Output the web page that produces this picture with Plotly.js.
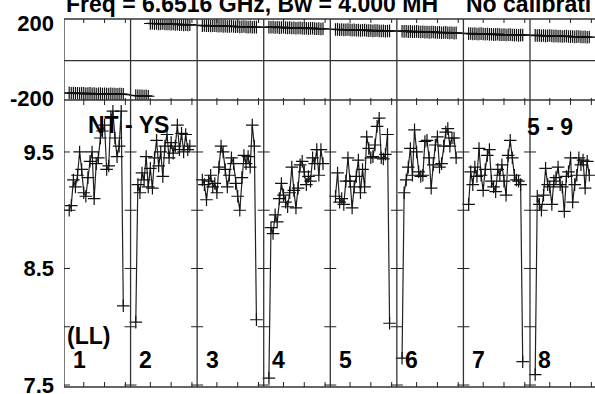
<!DOCTYPE html>
<html><head><meta charset="utf-8">
<script src="https://cdn.plot.ly/plotly-3.0.1.min.js"></script>
<style>html,body{margin:0;padding:0;background:#fff;overflow:hidden}</style>
</head><body>
<div id="chart" style="width:595px;height:394px"></div>
<script>
// ---- data ----
const panelLabels = ['1','2','3','4','5','6','7','8'];
const channels = [3,4,5,6,7,8,9,10,11,12,13,14,15,16,17,18,19,20,21,22,23,24,25,26,27,28,29];
const channelTicks = [10,20,30];
const ampTicks = [9.5,9.0,8.5,8.0,7.5];
const ampLabelVals = [9.5,8.5,7.5];
const ampLabelText = ['9.5','8.5','7.5'];
const phaseLabelVals = [200,-200];
const phaseLabelText = ['200','-200'];

const amp1 = [9.00,9.04,9.26,9.20,9.30,9.50,9.35,9.15,9.12,9.28,9.42,9.50,9.10,9.40,9.45,9.62,9.68,9.73,9.35,9.38,9.80,9.85,9.62,9.46,9.55,9.85,8.18];
const amp2 = [8.04,9.22,9.15,9.32,9.26,9.46,9.20,9.36,9.19,9.45,9.60,9.38,9.50,9.29,9.55,9.65,9.45,9.58,9.49,9.55,9.73,9.52,9.66,9.50,9.65,9.52,9.55];
const amp3 = [9.26,9.22,9.09,9.25,9.30,9.20,9.23,9.15,9.37,9.55,9.50,9.35,9.20,9.30,9.45,9.40,9.23,9.12,9.00,9.28,9.47,9.40,9.46,9.37,9.73,9.55,8.06];
const amp4 = [7.56,8.85,8.80,8.96,8.90,9.10,9.23,9.13,9.07,9.03,9.15,9.37,9.17,9.02,9.19,9.39,9.42,9.33,9.22,9.29,9.25,9.45,9.40,9.52,9.30,9.52,9.40];
const amp5 = [9.12,9.32,9.07,9.10,9.05,9.25,9.45,9.25,9.02,9.20,9.29,9.43,9.15,9.35,9.20,9.63,9.53,9.45,9.46,9.56,9.72,9.79,9.45,9.44,9.48,9.65,8.03];
const amp6 = [7.73,9.15,9.26,9.37,9.53,9.30,9.69,9.50,9.33,9.29,9.30,9.59,9.60,9.45,9.19,9.39,9.56,9.63,9.37,9.40,9.55,9.67,9.70,9.55,9.62,9.62,9.45];
const amp7 = [9.05,9.33,9.22,9.37,9.29,9.53,9.30,9.17,9.35,9.47,9.52,9.25,9.20,9.16,9.35,9.30,9.39,9.25,9.13,9.47,9.60,9.45,9.30,9.26,9.25,9.22,7.70];
const amp8 = [7.59,9.12,9.05,9.00,9.13,9.36,9.22,9.20,9.05,9.25,9.28,9.37,9.22,9.20,8.99,9.29,9.33,9.45,9.07,9.22,9.30,9.45,9.39,9.43,9.19,9.42,9.30];

const phase1 = [-172,-174,-173,-175,-174,-176,-175,-174,-177,-176,-175,-177,-176,-178,-177,-176,-178,-177,-179,-178,-177,-179,-178,-180,-179,-178,-180];
const phase2 = [-186,-187,-188,-187,-189,-188,-190,197,198,196,197,195,196,197,195,194,195,193,194,192,193,191,192,190,191,190,191];
const phase3 = [186,187,185,186,184,185,186,184,183,184,182,183,181,182,183,181,180,181,179,180,181,179,178,179,177,178,178];
const phase4 = [178,177,178,176,177,175,176,177,175,174,175,173,174,172,173,174,172,171,172,170,171,172,170,169,170,168,169];
const phase5 = [165,166,164,165,163,164,165,163,162,163,161,162,160,161,162,160,159,160,158,159,160,158,157,158,156,157,158];
const phase6 = [156,155,156,154,155,153,154,155,153,152,153,151,152,150,151,152,150,149,150,148,149,150,148,147,148,146,147];
const phase7 = [143,144,142,143,141,142,143,141,140,141,139,140,138,139,140,138,137,138,136,137,138,136,135,136,134,135,136];
const phase8 = [134,133,134,132,133,131,132,133,131,130,131,129,130,128,129,130,128,127,128,126,127,128,126,125,126,124,125];

const titleText = 'Freq = 6.6516 GHz, Bw = 4.000 MH';
const titleText2 = 'No calibrati';
const sourceText = 'NT - YS';
const baselineText = '5 - 9';
const polText = '(LL)';

// ---- geometry ----
const W = 595, H = 394;
const ML = 64, MR = 0, MT = 19, MB = 7;
const PW = W - ML - MR, PH = H - MT - MB;
const CH_PER_PANEL = 32;
const PX_PER_CH = 66.57 / CH_PER_PANEL;
const X0 = 0.5;
const X1 = X0 + PW / PX_PER_CH;
const splitPx = 100; // boundary between phase and amplitude panels
const splitFrac = (H - MB - splitPx) / PH;

const ampSets = [amp1,amp2,amp3,amp4,amp5,amp6,amp7,amp8];
const phaseSets = [phase1,phase2,phase3,phase4,phase5,phase6,phase7,phase8];

const xOf = (p, ch) => p * CH_PER_PANEL + ch;
const px2paperX = px => (px - ML) / PW;
const py2paperY = py => (H - MB - py) / PH;

// amplitude: one line per panel (gaps between panels)
const ax = [], ay = [];
ampSets.forEach((arr, p) => {
  arr.forEach((v, k) => { ax.push(xOf(p, channels[k])); ay.push(v); });
  ax.push(null); ay.push(null);
});
// phase: continuous, broken at wraps
const phx = [], phy = [];
let prev = null;
phaseSets.forEach((arr, p) => {
  arr.forEach((v, k) => {
    if (prev !== null && Math.abs(v - prev) > 180) { phx.push(null); phy.push(null); }
    phx.push(xOf(p, channels[k])); phy.push(v); prev = v;
  });
});

const mk = {symbol: 'cross-thin', size: 9, line: {width: 1.2, color: '#111'}, color: '#111'};
const traces = [
  {x: ax, y: ay, xaxis: 'x', yaxis: 'y', mode: 'lines+markers', line: {color: '#222', width: 1.2}, marker: mk, connectgaps: false, hoverinfo: 'skip'},
  {x: phx, y: phy, xaxis: 'x', yaxis: 'y2', mode: 'lines+markers', line: {color: '#111', width: 1.2}, marker: mk, connectgaps: false, hoverinfo: 'skip'}
];

// ---- frame shapes ----
const shapes = [];
const frameLine = {color: '#333', width: 1.3};
for (let p = 0; p <= 8; p++) {
  shapes.push({type: 'line', xref: 'x', yref: 'paper', x0: X0 + p * CH_PER_PANEL, x1: X0 + p * CH_PER_PANEL, y0: 0, y1: 1, line: frameLine});
}
[0, splitFrac, 1].forEach(yv => shapes.push({type: 'line', xref: 'paper', yref: 'paper', x0: 0, x1: 1, y0: yv, y1: yv, line: frameLine}));
shapes.push({type: 'line', xref: 'paper', yref: 'y2', x0: 0, x1: 1, y0: 0, y1: 0, line: frameLine});

// channel ticks
for (let p = 0; p < 8; p++) {
  channelTicks.forEach(t => {
    const xv = xOf(p, t);
    [[0, 0, 5], [splitFrac, -5, 2], [1, 0, -4]].forEach(([anc, a, b]) => {
      shapes.push({type: 'line', xref: 'x', yref: 'paper', ysizemode: 'pixel', yanchor: anc, x0: xv, x1: xv, y0: a, y1: b, line: {color: '#222', width: 1}});
    });
  });
}
// amplitude ticks at every panel edge
for (let p = 0; p < 8; p++) {
  ampTicks.forEach(v => {
    shapes.push({type: 'line', xref: 'x', yref: 'y', xsizemode: 'pixel', xanchor: X0 + p * CH_PER_PANEL, x0: p === 0 ? 0 : -6, x1: 6, y0: v, y1: v, line: {color: '#222', width: 1}});
  });
}

// ---- text ----
const F = {family: 'Liberation Sans, Arial, sans-serif', size: 23, color: '#000', weight: 'bold'};
const annotations = [
  {text: titleText, xref: 'paper', yref: 'paper', x: px2paperX(64), y: py2paperY(4), xanchor: 'left', yanchor: 'middle', showarrow: false, font: F},
  {text: titleText2, xref: 'paper', yref: 'paper', x: px2paperX(464), y: py2paperY(4), xanchor: 'left', yanchor: 'middle', showarrow: false, font: F},
  {text: sourceText, xref: 'paper', yref: 'paper', x: px2paperX(86), y: py2paperY(125), xanchor: 'left', yanchor: 'middle', showarrow: false, font: F},
  {text: baselineText, xref: 'paper', yref: 'paper', x: px2paperX(525), y: py2paperY(126.5), xanchor: 'left', yanchor: 'middle', showarrow: false, font: F},
  {text: polText, xref: 'paper', yref: 'paper', x: px2paperX(65), y: py2paperY(336), xanchor: 'left', yanchor: 'middle', showarrow: false, font: F}
];
panelLabels.forEach((lab, p) => {
  annotations.push({text: lab, xref: 'x', yref: 'paper', x: X0 + p * CH_PER_PANEL + 15 / PX_PER_CH, y: py2paperY(360), xanchor: 'center', yanchor: 'middle', showarrow: false, font: F});
});

const tickFont = {family: 'Liberation Sans, Arial, sans-serif', size: 22, color: '#000', weight: 'bold'};
const layout = {
  width: W, height: H,
  margin: {l: ML, r: MR, t: MT, b: MB, pad: 0},
  paper_bgcolor: '#fff', plot_bgcolor: '#fff',
  showlegend: false,
  xaxis: {range: [X0, X1], showgrid: false, zeroline: false, showticklabels: false, ticks: '', showline: false, fixedrange: true},
  yaxis: {domain: [0, splitFrac], range: [7.483, 9.946], tickmode: 'array', tickvals: ampLabelVals, ticktext: ampLabelText, tickfont: tickFont, ticks: '', showgrid: false, zeroline: false, showline: false, ticklabelstandoff: 9, ticklabeloverflow: 'allow', fixedrange: true},
  yaxis2: {domain: [splitFrac, 1], range: [-210, 221], tickmode: 'array', tickvals: phaseLabelVals, ticktext: phaseLabelText, tickfont: tickFont, ticks: '', showgrid: false, zeroline: false, showline: false, ticklabelstandoff: 9, ticklabeloverflow: 'allow', anchor: 'x', fixedrange: true},
  shapes: shapes,
  annotations: annotations
};
Plotly.newPlot('chart', traces, layout, {displayModeBar: false, staticPlot: true});
</script>
</body></html>
